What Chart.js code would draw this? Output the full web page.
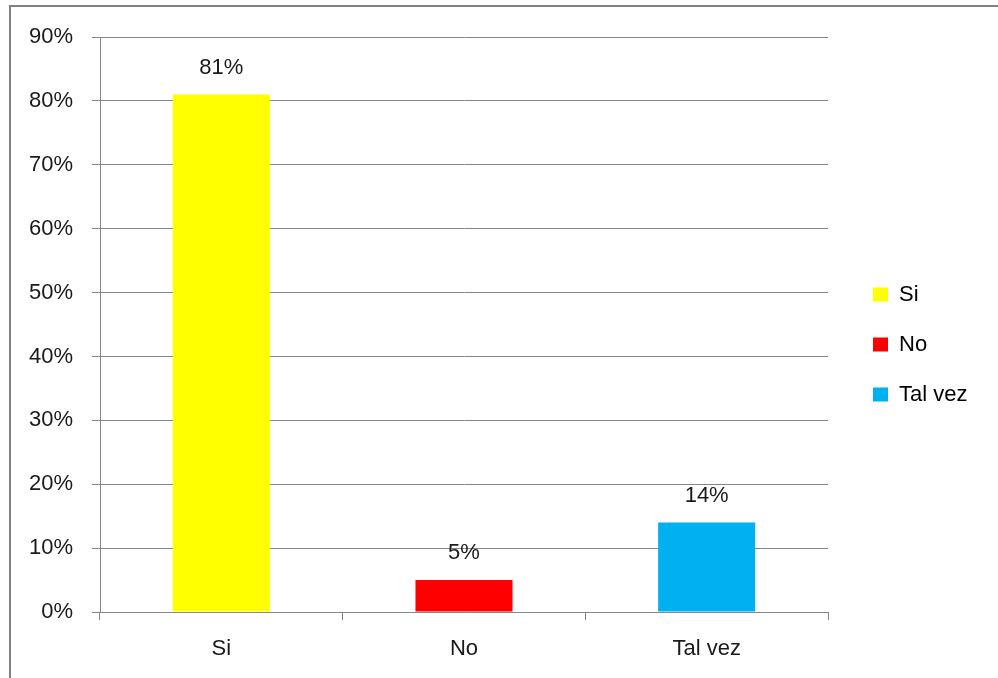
<!DOCTYPE html>
<html>
<head>
<meta charset="utf-8">
<script src="https://cdn.jsdelivr.net/npm/chart.js@4"></script>
<style>
  html, body { margin: 0; padding: 0; background: #fff; }
  #wrap { position: relative; width: 998px; height: 678px; overflow: hidden; }
  #frame {
    position: absolute; left: 9px; top: 5px; width: 1100px; height: 800px;
    border-left: 2px solid #808080; border-top: 2px solid #808080;
  }
  #chart { position: absolute; left: 0; top: 0; }
</style>
</head>
<body>
<div id="wrap">
  <div id="frame"></div>
  <canvas id="chart" width="998" height="678"></canvas>
</div>
<script>
// data
const categories = ["Si", "No", "Tal vez"];
const values = [81, 5, 14];
const barColors = ["#FFFF00", "#FF0000", "#00B0F0"];
const yTicksMax = 90;
const yStep = 10;

const FONT = "'Liberation Sans', Arial, sans-serif";
const GRID = "#868686";
const TEXT = "#1a1a1a";

// legend placement: fixed width so the plot ends where the reference does
const legendBox = {
  id: "legendBox",
  beforeLayout(chart) {
    const lg = chart.legend;
    if (lg && !lg._patched) {
      const fit = lg.fit;
      lg.fit = function () {
        fit.call(this);
        this.width = 170;
      };
      lg._patched = true;
    }
  },
  afterLayout(chart) {
    const lg = chart.legend;
    if (!lg) return;
    lg.left += 17; lg.right += 17;
    lg.top -= 13; lg.bottom -= 13;
  }
};

// value labels above bars
const barLabels = {
  id: "barLabels",
  afterDatasetsDraw(chart) {
    const ctx = chart.ctx;
    const meta = chart.getDatasetMeta(0);
    ctx.save();
    ctx.font = "22px " + FONT;
    ctx.fillStyle = TEXT;
    ctx.textAlign = "center";
    ctx.textBaseline = "middle";
    meta.data.forEach((bar, i) => {
      ctx.fillText(values[i] + "%", bar.x, bar.y - 27);
    });
    ctx.restore();
  }
};

new Chart(document.getElementById("chart"), {
  type: "bar",
  data: {
    labels: categories,
    datasets: [
      {
        label: "Serie",
        data: values,
        backgroundColor: barColors,
        borderWidth: 0,
        barPercentage: 0.4,
        categoryPercentage: 1
      }
    ]
  },
  options: {
    responsive: false,
    animation: false,
    layout: { padding: { top: 37, left: 0, right: 0, bottom: 0 } },
    plugins: {
      tooltip: { enabled: false },
      legend: {
        position: "right",
        onClick: null,
        labels: {
          boxWidth: 15,
          boxHeight: 14,
          padding: 28,
          color: TEXT,
          font: { family: FONT, size: 22 },
          generateLabels: () =>
            categories.map((c, i) => ({
              text: c,
              fillStyle: barColors[i],
              strokeStyle: barColors[i],
              lineWidth: 0,
              hidden: false,
              index: i
            }))
        }
      }
    },
    scales: {
      x: {
        offset: true,
        grid: {
          offset: true,
          drawOnChartArea: false,
          drawTicks: true,
          tickLength: 8,
          color: GRID
        },
        border: { display: true, color: GRID, width: 1 },
        ticks: {
          color: TEXT,
          padding: 16,
          font: { family: FONT, size: 22 }
        },
        afterFit(scale) { scale.height = 66; }
      },
      y: {
        min: 0,
        max: yTicksMax,
        grid: {
          color: GRID,
          tickLength: 8,
          drawTicks: true
        },
        border: { display: true, color: GRID, width: 1 },
        ticks: {
          stepSize: yStep,
          color: TEXT,
          padding: 19,
          font: { family: FONT, size: 22 },
          callback: (v) => v + "%"
        },
        afterFit(scale) { scale.width = 100; }
      }
    }
  },
  plugins: [legendBox, barLabels]
});
</script>
</body>
</html>
